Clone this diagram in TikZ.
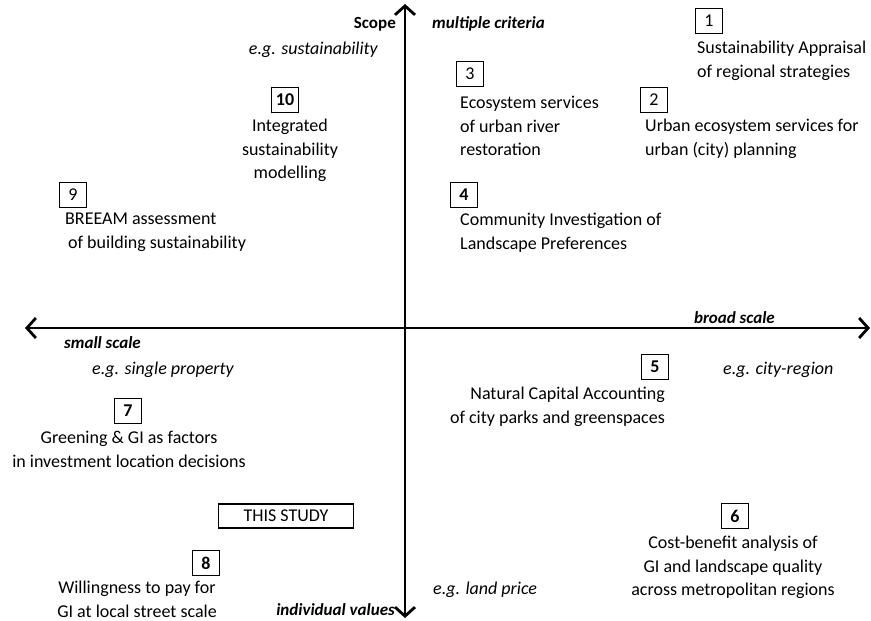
\documentclass[tikz,border=0pt]{standalone}
\usepackage{fontspec}
\setmainfont{Carlito}
\usetikzlibrary{arrows.meta,positioning}

\begin{document}
\begin{tikzpicture}[
  x=1pt, y=-1pt,
  font=\fontsize{18}{23.5}\selectfont,
  axis/.style={line width=2.8pt, {Straight Barb[length=9pt,width=20pt]}-{Straight Barb[length=9pt,width=20pt]}},
  numbox/.style={draw, line width=1.3pt, minimum width=27pt, minimum height=25pt, inner sep=0pt},
  keynum/.style={numbox, font=\fontsize{18}{23.5}\selectfont\bfseries},
  desc/.style={inner sep=0pt, anchor=north},
  eg/.style={inner sep=0pt, font=\fontsize{18}{23.5}\selectfont\itshape},
  axlabel/.style={inner sep=0pt, font=\fontsize{17}{23.5}\selectfont\bfseries\itshape}
]
\useasboundingbox (0,0) rectangle (871,621);

% ================= Axes =================
\coordinate (top) at (405,4);
\coordinate (bottom) at (405,618);
\coordinate (left) at (25,328);
\coordinate (right) at (870,328);

\draw[axis] (bottom) -- (top);
\draw[axis] (left) -- (right);

\node[inner sep=0pt, font=\fontsize{17}{23.5}\selectfont\bfseries, anchor=base east] (scope) at (396,28) {Scope};
\node[axlabel, anchor=base west] (multi) at (432,28) {multiple criteria};
\node[axlabel, anchor=base east] (broad) at (775,323) {broad scale};
\node[axlabel, anchor=base west] (small) at (64,348) {small scale};
\node[axlabel, anchor=base east] (indiv) at (395,615) {individual values};

\node[eg, anchor=base east] (egsust) at (378,54) {e.g. sustainability};
\node[eg, anchor=base west] (egprop) at (92,374) {e.g. single property};
\node[eg, anchor=base west] (egcity) at (723,374) {e.g. city-region};
\node[eg, anchor=base west] (egland) at (433,594) {e.g. land price};

% ================= Numbered studies =================
\node[numbox] (n1) at (709,21) {1};
\node[numbox] (n2) at (654,100) {2};
\node[numbox] (n3) at (470,74) {3};
\node[keynum] (n4) at (464,195) {4};
\node[keynum] (n5) at (655,367) {5};
\node[keynum] (n6) at (735,516) {6};
\node[keynum] (n7) at (128,411) {7};
\node[keynum] (n8) at (206,563) {8};
\node[numbox] (n9) at (73,195) {9};
\node[keynum] (n10) at (285,100) {10};

\node[desc, anchor=north west, align=left] (d1) at (697,41) {Sustainability Appraisal\\of regional strategies};
\node[desc, anchor=north west, align=left] (d2) at (645,119) {Urban ecosystem services for\\urban (city) planning};
\node[desc, anchor=north west, align=left] (d3) at (460,96) {Ecosystem services\\of urban river\\restoration};
\node[desc, align=center] (d10) at (290,119) {Integrated\\sustainability\\modelling};
\node[desc, anchor=north west, align=left] (d9) at (65,213) {BREEAM assessment\\\hspace{3pt}of building sustainability};
\node[desc, anchor=north west, align=left] (d4) at (460,213) {Community Investigation of\\Landscape Preferences};
\node[desc, anchor=north east, align=right] (d5) at (665,387) {Natural Capital Accounting\\of city parks and greenspaces};
\node[desc, align=center] (d7) at (129,431) {Greening \& GI as factors\\in investment location decisions};
\node[desc, align=center] (d8) at (137,581) {Willingness to pay for\\GI at local street scale};
\node[desc, align=center] (d6) at (733,536) {Cost-benefit analysis of\\GI and landscape quality\\across metropolitan regions};

% ================= This study =================
\node[draw, line width=1.3pt, minimum width=135pt, minimum height=24pt, inner sep=0pt] (study) at (286,516) {THIS STUDY};

\end{tikzpicture}
\end{document}
